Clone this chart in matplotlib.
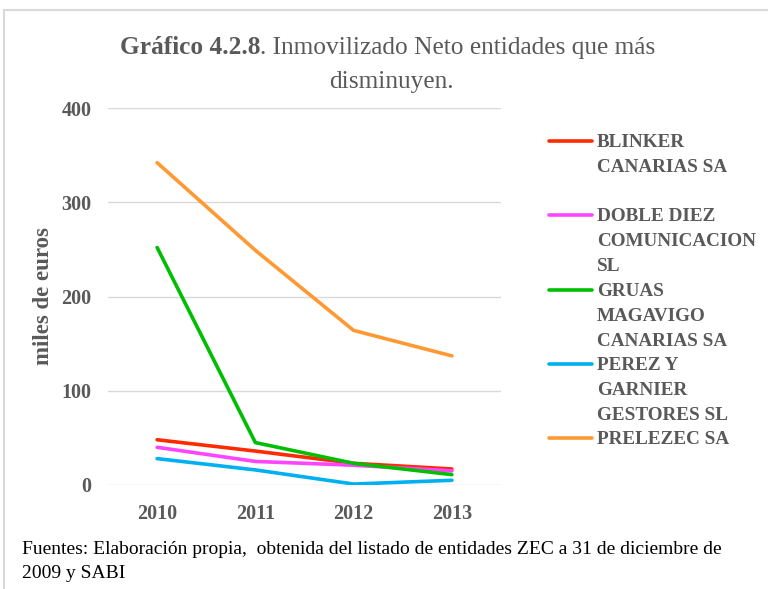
import matplotlib.pyplot as plt
from matplotlib.lines import Line2D

years = ['2010', '2011', '2012', '2013']
blinker = [48, 36, 23, 17]
doble_diez = [40, 25, 21, 15]
gruas = [252, 45, 23, 11]
perez = [28, 16, 1, 5]
prelezec = [342, 249, 164, 137]

names = ['BLINKER\nCANARIAS SA', 'DOBLE DIEZ\nCOMUNICACION\nSL',
         'GRUAS\nMAGAVIGO\nCANARIAS SA', 'PEREZ Y\nGARNIER\nGESTORES SL',
         'PRELEZEC SA']
series = [blinker, doble_diez, gruas, perez, prelezec]
colors = ['#FF2A00', '#FF44FF', '#00BF00', '#00B0F0', '#FF9933']

plt.rcParams['font.family'] = ['Liberation Serif', 'DejaVu Serif']
GRAY = '#595959'

fig = plt.figure(figsize=(7.68, 5.89), dpi=100)
ax = fig.add_axes([108 / 768, 1 - 485 / 589, 393 / 768, 377 / 589])

x = list(range(len(years)))
for vals, c in zip(series, colors):
    ax.plot(x, vals, color=c, lw=2.6, solid_capstyle='round', zorder=3)

ax.set_xlim(-0.5, len(years) - 0.5)
ax.set_ylim(0, 400)
ax.set_yticks([0, 100, 200, 300, 400])
ax.set_xticks(x)
ax.set_xticklabels(years)
ax.grid(axis='y', color='#D9D9D9', lw=1)
ax.set_axisbelow(True)
for s in ax.spines.values():
    s.set_visible(False)
ax.tick_params(length=0, labelsize=14.5, labelcolor=GRAY)
ax.tick_params(axis='y', pad=12)
ax.tick_params(axis='x', pad=14)
for lab in ax.get_xticklabels() + ax.get_yticklabels():
    lab.set_fontweight('bold')
ax.set_ylabel('miles de euros', fontsize=16.5, fontweight='bold', color=GRAY)
ax.yaxis.set_label_coords(-0.138, 0.5)

# title: bold part followed by regular part
ty = 1 - 48 / 589
t1 = fig.text(120 / 768, ty, 'Gráfico 4.2.8', fontsize=18.3, fontweight='bold',
              color=GRAY, va='center', ha='left')
fig.canvas.draw()
bb = t1.get_window_extent()
fig.text(bb.x1 / fig.bbox.width, ty, '. Inmovilizado Neto entidades que más', fontsize=18.3,
         color=GRAY, va='center', ha='left')
fig.text(391 / 768, 1 - 82 / 589, 'disminuyen.', fontsize=18.3, color=GRAY,
         va='center', ha='center')

# legend
tops = [141, 215, 290, 364, 438]
for name, c, y in zip(names, colors, tops):
    fy = 1 - y / 589
    fig.add_artist(Line2D([549 / 768, 592 / 768], [fy, fy], color=c, lw=2.6,
                          solid_capstyle='round', transform=fig.transFigure))
    fig.text(597 / 768, 1 - (y - 7) / 589, name, fontsize=13.8, fontweight='bold',
             color=GRAY, va='top', linespacing=1.6)

# footnote
fig.text(22 / 768, 1 - 549 / 589,
         'Fuentes: Elaboración propia,  obtenida del listado de entidades ZEC a 31 de diciembre de',
         fontsize=14, color='black', va='center')
fig.text(22 / 768, 1 - 573 / 589, '2009 y SABI', fontsize=14, color='black', va='center')

# frame
fig.add_artist(Line2D([4 / 768, 1], [1 - 10 / 589, 1 - 10 / 589], color='#D9D9D9', lw=1.5,
                      transform=fig.transFigure))
fig.add_artist(Line2D([4 / 768, 4 / 768], [0, 1 - 10 / 589], color='#D9D9D9', lw=1.5,
                      transform=fig.transFigure))

fig.savefig('out.png', dpi=100)
